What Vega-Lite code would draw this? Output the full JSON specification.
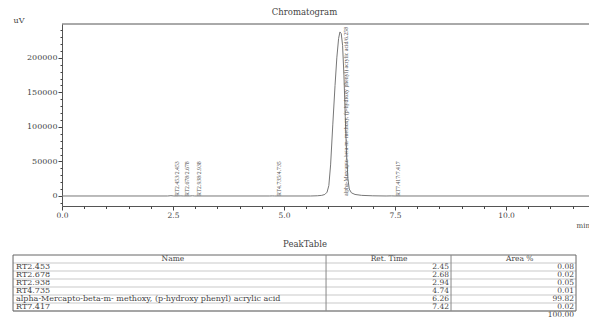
{
  "$schema": "https://vega.github.io/schema/vega-lite/v6.json",
  "padding": {"left": 12, "top": 7, "right": 0, "bottom": 0},
  "background": "white",
  "datasets": {
    "trace": [
      {"t": 0, "v": 0}, {"t": 2.38, "v": 0}, {"t": 2.453, "v": 450}, {"t": 2.52, "v": 0},
      {"t": 2.62, "v": 0}, {"t": 2.678, "v": 150}, {"t": 2.73, "v": 0}, {"t": 2.88, "v": 0},
      {"t": 2.938, "v": 300}, {"t": 2.99, "v": 0}, {"t": 4.68, "v": 0}, {"t": 4.735, "v": 120},
      {"t": 4.79, "v": 0}, {"t": 5.6, "v": 0}, {"t": 5.75, "v": 300}, {"t": 5.85, "v": 900},
      {"t": 5.92, "v": 2200}, {"t": 5.97, "v": 5500}, {"t": 6.01, "v": 15000}, {"t": 6.05, "v": 45000},
      {"t": 6.1, "v": 104000}, {"t": 6.15, "v": 160000}, {"t": 6.19, "v": 200000}, {"t": 6.23, "v": 228000},
      {"t": 6.26, "v": 237500}, {"t": 6.29, "v": 235000}, {"t": 6.32, "v": 218000}, {"t": 6.35, "v": 175000},
      {"t": 6.38, "v": 115000}, {"t": 6.41, "v": 60000}, {"t": 6.44, "v": 25000}, {"t": 6.47, "v": 10000},
      {"t": 6.52, "v": 4500}, {"t": 6.6, "v": 2200}, {"t": 6.75, "v": 900}, {"t": 7.0, "v": 250},
      {"t": 7.3, "v": 0}, {"t": 7.417, "v": 150}, {"t": 7.5, "v": 0}, {"t": 11.87, "v": 0}
    ],
    "peaks": [
      {"t": 2.453, "label": "RT2.453/2.453"},
      {"t": 2.678, "label": "RT2.678/2.678"},
      {"t": 2.938, "label": "RT2.938/2.938"},
      {"t": 4.735, "label": "RT4.735/4.735"},
      {"t": 6.258, "label": "alpha-Mercapto-beta-m- methoxy, (p-hydroxy phenyl) acrylic acid/6.258"},
      {"t": 7.417, "label": "RT7.417/7.417"}
    ],
    "table": [
      {"row": 1, "name": "RT2.453", "time": "2.45", "area": "0.08"},
      {"row": 2, "name": "RT2.678", "time": "2.68", "area": "0.02"},
      {"row": 3, "name": "RT2.938", "time": "2.94", "area": "0.05"},
      {"row": 4, "name": "RT4.735", "time": "4.74", "area": "0.01"},
      {"row": 5, "name": "alpha-Mercapto-beta-m- methoxy, (p-hydroxy phenyl) acrylic acid", "time": "6.26", "area": "99.82"},
      {"row": 6, "name": "RT7.417", "time": "7.42", "area": "0.02"},
      {"row": 7, "name": "", "time": "", "area": "100.00"}
    ]
  },
  "config": {
    "font": "DejaVu Serif",
    "view": {"stroke": null},
    "axis": {
      "labelFont": "DejaVu Serif", "titleFont": "DejaVu Serif",
      "labelColor": "#444", "titleColor": "#444",
      "domainColor": "#555", "tickColor": "#444", "grid": false, "ticks": true,
      "titleFontWeight": "normal"
    },
    "title": {"font": "DejaVu Serif", "fontWeight": "normal", "color": "#444", "fontSize": 8.5}
  },
  "spacing": 12,
  "vconcat": [
    {
      "width": 527,
      "height": 182,
      "title": {"text": "Chromatogram", "anchor": "middle", "dx": -21, "offset": 0},
      "resolve": {"axis": {"x": "independent", "y": "independent"}},
      "layer": [
        {
          "data": {"name": "trace"},
          "mark": {"type": "line", "color": "#777", "strokeWidth": 1},
          "encoding": {
            "x": {
              "field": "t", "type": "quantitative",
              "scale": {"domain": [0, 11.87], "nice": false, "zero": false},
              "axis": {
                "orient": "bottom",
                "values": [0, 2.5, 5, 7.5, 10],
                "format": ".1f",
                "tickSize": 4,
                "labelFontSize": 7.5,
                "labelPadding": 1, "labelFlush": false,
                "title": "min", "titleX": 514, "titleY": 19, "titleAlign": "left", "titleBaseline": "middle", "titleFontSize": 7
              }
            },
            "y": {
              "field": "v", "type": "quantitative",
              "scale": {"domain": [-14500, 249000], "nice": false, "zero": false},
              "axis": {
                "orient": "left",
                "values": [0, 50000, 100000, 150000, 200000],
                "format": "d",
                "tickSize": 4,
                "labelFontSize": 8,
                "labelPadding": 1, "labelFlush": false,
                "title": "uV", "titleAngle": 0, "titleX": -49, "titleY": -4, "titleAlign": "left", "titleBaseline": "middle", "titleFontSize": 8
              }
            }
          }
        },
        {
          "data": {"values": [{}]},
          "mark": {"type": "rule", "color": "#555", "strokeWidth": 1},
          "encoding": {"y": {"datum": 249000, "axis": null}}
        },
        {
          "data": {"name": "peaks"},
          "mark": {"type": "text", "angle": 270, "align": "left", "baseline": "middle", "dy": 6.5, "font": "Liberation Serif", "fontSize": 5.8, "color": "#555"},
          "encoding": {
            "x": {
              "field": "t", "type": "quantitative",
              "axis": {
                "orient": "bottom",
                "values": [0.5, 1, 1.5, 2, 3, 3.5, 4, 4.5, 5.5, 6, 6.5, 7, 8, 8.5, 9, 9.5, 10.5, 11, 11.5],
                "labels": false, "domain": false, "tickSize": 2.5, "title": null
              }
            },
            "y": {
              "datum": 0,
              "axis": {
                "orient": "left",
                "values": [-10000, 10000, 20000, 30000, 40000, 60000, 70000, 80000, 90000, 110000, 120000, 130000, 140000, 160000, 170000, 180000, 190000, 210000, 220000, 230000, 240000],
                "labels": false, "domain": false, "tickSize": 2, "title": null
              }
            },
            "text": {"field": "label"}
          }
        }
      ]
    },
    {
      "width": 514,
      "height": 64,
      "title": {"text": "PeakTable", "anchor": "middle", "dx": -14, "offset": 6},
      "encoding": {
        "x": {"type": "quantitative", "scale": {"domain": [8.7, 100], "nice": false, "zero": false}, "axis": null},
        "y": {"type": "quantitative", "scale": {"domain": [0, 8], "nice": false, "zero": false, "reverse": true}, "axis": null}
      },
      "layer": [
        {
          "data": {"name": "table"},
          "mark": {"type": "rule", "color": "#bbb", "strokeWidth": 0.8},
          "encoding": {"y": {"field": "row", "type": "quantitative"}, "x": {"datum": 0}, "x2": {"datum": 100}}
        },
        {
          "data": {"values": [{}]},
          "mark": {"type": "rule", "color": "#666", "strokeWidth": 1},
          "encoding": {"y": {"datum": 0}, "x": {"datum": 0}, "x2": {"datum": 100}}
        },
        {
          "data": {"values": [{}]},
          "mark": {"type": "rule", "color": "#666", "strokeWidth": 1},
          "encoding": {"y": {"datum": 7}, "x": {"datum": 0}, "x2": {"datum": 100}}
        },
        {
          "data": {"values": [{}]},
          "mark": {"type": "rule", "color": "#666", "strokeWidth": 1},
          "encoding": {"x": {"datum": 0}, "y": {"datum": 0}, "y2": {"datum": 7}}
        },
        {
          "data": {"values": [{}]},
          "mark": {"type": "rule", "color": "#888", "strokeWidth": 1},
          "encoding": {"x": {"datum": 55.6}, "y": {"datum": 0}, "y2": {"datum": 7}}
        },
        {
          "data": {"values": [{}]},
          "mark": {"type": "rule", "color": "#888", "strokeWidth": 1},
          "encoding": {"x": {"datum": 77.8}, "y": {"datum": 0}, "y2": {"datum": 7}}
        },
        {
          "data": {"values": [{}]},
          "mark": {"type": "rule", "color": "#666", "strokeWidth": 1},
          "encoding": {"x": {"datum": 100}, "y": {"datum": 0}, "y2": {"datum": 7}}
        },
        {
          "data": {"values": [{}]},
          "mark": {"type": "text", "align": "center", "baseline": "middle", "dy": 4, "fontSize": 7.5, "color": "#444"},
          "encoding": {"x": {"datum": 28.4}, "y": {"datum": 0}, "text": {"value": "Name"}}
        },
        {
          "data": {"values": [{}]},
          "mark": {"type": "text", "align": "center", "baseline": "middle", "dy": 4, "fontSize": 7.5, "color": "#444"},
          "encoding": {"x": {"datum": 66.8}, "y": {"datum": 0}, "text": {"value": "Ret. Time"}}
        },
        {
          "data": {"values": [{}]},
          "mark": {"type": "text", "align": "center", "baseline": "middle", "dy": 4, "fontSize": 7.5, "color": "#444"},
          "encoding": {"x": {"datum": 90}, "y": {"datum": 0}, "text": {"value": "Area %"}}
        },
        {
          "data": {"name": "table"},
          "mark": {"type": "text", "align": "left", "baseline": "middle", "dx": 3, "dy": 4, "fontSize": 8, "color": "#444"},
          "encoding": {"x": {"datum": 0}, "y": {"field": "row", "type": "quantitative"}, "text": {"field": "name"}}
        },
        {
          "data": {"name": "table"},
          "mark": {"type": "text", "align": "right", "baseline": "middle", "dx": -2, "dy": 4, "fontSize": 7.5, "color": "#444"},
          "encoding": {"x": {"datum": 77.8}, "y": {"field": "row", "type": "quantitative"}, "text": {"field": "time"}}
        },
        {
          "data": {"name": "table"},
          "mark": {"type": "text", "align": "right", "baseline": "middle", "dx": -2, "dy": 4, "fontSize": 7.5, "color": "#444"},
          "encoding": {"x": {"datum": 100}, "y": {"field": "row", "type": "quantitative"}, "text": {"field": "area"}}
        }
      ]
    }
  ]
}
